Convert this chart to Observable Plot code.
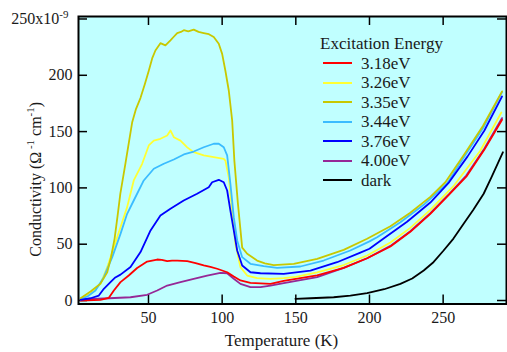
<!DOCTYPE html>
<html>
<head>
<meta charset="utf-8">
<script src="https://cdn.jsdelivr.net/npm/d3@7"></script>
<script src="https://cdn.jsdelivr.net/npm/@observablehq/plot@0.6"></script>
<style>
  body { margin: 0; background: #fff; }
  #chart { position: relative; width: 507px; height: 352px; font-family: "Liberation Serif", "Times New Roman", serif; }
  #legend { position: absolute; left: 320px; top: 34px; font-size: 17px; color: #1a1a1a; }
  #legend .row { height: 19.5px; line-height: 19.5px; white-space: nowrap; display: flex; align-items: center; }
  #legend .sw { display: inline-block; width: 29px; height: 2px; margin-left: 3px; margin-right: 9px; }
</style>
</head>
<body>
<div id="chart"></div>
<script>
// Photoconductivity vs temperature, [T (K), sigma (1e-9 / ohm cm)]
const s318 = [[3.9,0],[17.4,0.6],[23.1,2.4],[26.5,8.9],[31,16.3],[36.6,22.2],[42.3,28.9],[49.1,34.6],[55.9,36.4],[59,36],[62.7,34.9],[66,35.5],[69.5,35.5],[76.3,34.9],[82,33.2],[87.5,31.1],[92,29.8],[96.6,28.2],[103.4,25.1],[107.9,21.3],[112.4,17.8],[119.2,15.6],[132.8,14.8],[141.8,17.5],[150,19.2],[164.5,22.4],[182.5,29],[198.4,37.5],[214.2,48],[227.7,61],[241.3,77],[254,94],[265.7,110],[278,134],[290,160.5]];
const s326 = [[3.9,1],[10.7,6],[17.4,14.8],[22,29.6],[26.5,47.3],[31,65],[35.5,82.9],[40,106.6],[45.7,121.4],[50.2,137.7],[53.6,142],[58.1,143.6],[62.7,146.5],[64.9,151],[67.2,145],[71.7,142],[76.3,136],[80.7,131.7],[87.5,128.8],[94.3,127.3],[101.1,125.8],[102.2,124.3],[104.5,109.5],[106.8,80],[109,50.4],[112.4,29.6],[117,22.2],[123.7,19.8],[132.8,19.3],[141.8,19.8],[150,21],[164.5,25],[182.5,31.5],[198.4,40],[214.2,51.5],[227.7,64.5],[241.3,80.5],[257,101.5],[266,117],[275.2,133],[289.5,167]];
const s335 = [[3.9,2],[10.7,8],[17.4,15],[22,25],[24.5,38],[27,55],[29,75],[30.9,95],[34.4,122],[38.9,158],[41.5,170],[44.6,180],[47.5,192],[50.2,204],[52.5,215],[54.7,222],[58.1,228.5],[61.5,226.5],[64.9,231],[67,234],[69.5,237.5],[72,238.5],[74,240],[77,239],[80.7,240.5],[84,238.5],[87.5,237.5],[91,236.5],[94.3,234],[97.7,228],[100,219],[102.2,204],[104.5,186.5],[106.8,160],[108.3,124],[110.7,86],[113.6,47],[117,41.5],[123.7,35.5],[129,33],[135,31.5],[148.6,32.6],[164.5,37],[182.5,45],[198.4,54.8],[214.2,66],[227.7,78],[241.3,92],[251.5,105],[264.5,130],[277,155],[290,185.7]];
const s344 = [[3.9,1],[9,4],[14,8.9],[19.7,20.7],[25.4,38.5],[31,59.2],[35.5,77],[40,88.8],[46.8,106.6],[53.6,117],[60.4,121.4],[67.2,125.2],[74,129.7],[80.7,132.3],[87.5,136.1],[94.3,139.2],[97.7,139.2],[101.1,136.1],[103.4,128.8],[105.6,103.6],[107.9,74],[110.2,53.3],[113.6,38.5],[119.2,32.6],[128.2,30.5],[137.3,29],[153.1,30.2],[168.9,35.5],[187,44.4],[200,52.5],[205.2,56.2],[221,69.5],[236.8,85],[252.6,104],[264.5,128],[277,153],[290,185]];
const s376 = [[3.9,0.6],[10.7,2],[16.3,4.4],[19.7,10.4],[24.2,16.3],[27.5,20.5],[31,23],[37.8,29.7],[44.6,43],[51.4,62.2],[58.1,75.5],[64.9,81.4],[73.9,88.8],[83,94.8],[90.9,100.6],[93.2,105],[97.7,107.2],[101.1,105],[103.4,97.7],[105.6,79.9],[107.9,62.2],[110.2,44.4],[113.6,31.1],[119.2,25.1],[126,24.2],[141.8,23.7],[159.9,26.6],[178,34],[193.8,42.5],[200,46],[209.6,55],[225.5,70],[241.3,87],[254,105],[266.6,128],[278,151],[290,181.2]];
const s400 = [[3.9,0.9],[19.7,1.8],[37.8,2.9],[49.1,5.1],[55.9,8.9],[62.7,13.3],[71.7,16.3],[80.7,19.3],[89.8,22.2],[98.8,24.6],[103.4,24.2],[107.9,19.3],[112.4,14.8],[119.2,11.8],[126,11.8],[132.8,13.3],[141.8,15.4],[164.5,20.7],[182.5,29],[198.4,37.5],[214.2,48.5],[227.7,61.5],[241.3,77.5],[254,94.5],[265.7,111],[278,135],[290,162]];
const sDark = [[149.7,1.5],[160,2],[175.7,2.9],[187,4.3],[198.4,6.5],[210,10],[221,14.8],[229,19.5],[236.8,26.6],[243,33.5],[250.3,44.4],[257,55],[263.9,68.1],[270.5,80.5],[277.5,94.8],[283,110],[290.6,131.7]];

const seriesNames  = ["3.18eV", "3.26eV", "3.35eV", "3.44eV", "3.76eV", "4.00eV", "dark"];
const seriesColors = ["#ff0000", "#ffff33", "#c8c800", "#3bbcff", "#0000ff", "#962896", "#000000"];
const seriesData   = [s318, s326, s335, s344, s376, s400, sDark];

const xTicks = [50, 100, 150, 200, 250];
const yTicks = [0, 50, 100, 150, 200, 250];
const legendTitle = "Excitation Energy";
const xLabel = "Temperature (K)";
// label pieces: [text, isSuperscript]
const yLabelParts = [["Conductivity (Ω", 0], [" -1", 1], [" cm", 0], ["-1", 1], [")", 0]];
const yLabel = yLabelParts.map(p => p[0]).join("");
const topTickSuffix = ["x10", "-9"];

const W = 507, H = 352, mL = 78, mR = 1, mT = 16, mB = 48.5;
const plotW = W - mL - mR, plotH = H - mT - mB;
const tickLen = 9;

const rows = seriesData.flatMap((pts, i) => pts.map(([t, c]) => ({series: seriesNames[i], t, c})));

// drawing order: dark first, photo curves on top
const drawOrder = [6, 5, 0, 1, 3, 2, 4];

const chart = Plot.plot({
  width: W, height: H,
  marginLeft: mL, marginRight: mR, marginTop: mT, marginBottom: mB,
  style: {fontFamily: "'Liberation Serif', 'Times New Roman', serif", fontSize: "16px", background: "transparent", color: "#1a1a1a"},
  x: {domain: [2.5, 293]},
  y: {domain: [-3.1, 252.2]},
  color: {domain: seriesNames, range: seriesColors},
  marks: [
    Plot.frame({fill: "#c0ffff"}),
    // inward ticks on all four sides
    Plot.ruleY(yTicks, {y: d => d, insetRight: plotW - tickLen, strokeWidth: 1.5, stroke: "#000"}),
    Plot.ruleY(yTicks, {y: d => d, insetLeft: plotW - tickLen, strokeWidth: 1.5, stroke: "#000"}),
    Plot.ruleX(xTicks, {x: d => d, insetTop: plotH - tickLen, strokeWidth: 1.5, stroke: "#000"}),
    Plot.ruleX(xTicks, {x: d => d, insetBottom: plotH - tickLen, strokeWidth: 1.5, stroke: "#000"}),
    Plot.axisX({ticks: xTicks, tickSize: 0, tickPadding: 8, label: null}),
    Plot.axisY({ticks: yTicks, tickSize: 0, tickPadding: 6, label: null}),
    ...drawOrder.map(i => Plot.line(rows.filter(r => r.series === seriesNames[i]),
      {x: "t", y: "c", stroke: "series", strokeWidth: 1.8, strokeLinejoin: "round"})),
    Plot.frame({stroke: "#000", strokeWidth: 2}),
    Plot.text([xLabel], {frameAnchor: "bottom", text: d => d, textAnchor: "middle", lineAnchor: "middle", dy: 36.5, dx: -11, fontSize: 17}),
    Plot.text([yLabel], {frameAnchor: "left", text: d => d, textAnchor: "middle", lineAnchor: "middle", rotate: -90, dx: -43, dy: 19, fontSize: 16})
  ]
});

// superscripts in the y label and on the top y tick
function buildSup(el, parts, supSize) {
  el.textContent = "";
  let prevSup = false;
  for (const [txt, sup] of parts) {
    const ts = document.createElementNS("http://www.w3.org/2000/svg", "tspan");
    ts.textContent = txt;
    if (sup) { ts.setAttribute("font-size", supSize); if (!prevSup) ts.setAttribute("dy", "-6.5"); }
    else if (prevSup) ts.setAttribute("dy", "6.5");
    prevSup = !!sup;
    el.appendChild(ts);
  }
}
d3.select(chart).selectAll("text").each(function() {
  const group = this.closest("g[aria-label]");
  const role = group ? group.getAttribute("aria-label") : "";
  if (this.textContent === yLabel) buildSup(this, yLabelParts, 11);
  else if (role === "y-axis tick label" && this.textContent === String(yTicks[yTicks.length - 1])) {
    buildSup(this, [[this.textContent + topTickSuffix[0], 0], [topTickSuffix[1], 1]], 11);
    this.setAttribute("dx", "-4");
  }
});

const host = document.getElementById("chart");
host.appendChild(chart);

// legend inside the plot area
const legend = d3.select(host).append("div").attr("id", "legend");
legend.append("div").attr("class", "row").text(legendTitle);
seriesNames.forEach((n, i) => {
  const r = legend.append("div").attr("class", "row");
  r.append("span").attr("class", "sw").style("background", seriesColors[i]);
  r.append("span").text(n);
});
</script>
</body>
</html>
